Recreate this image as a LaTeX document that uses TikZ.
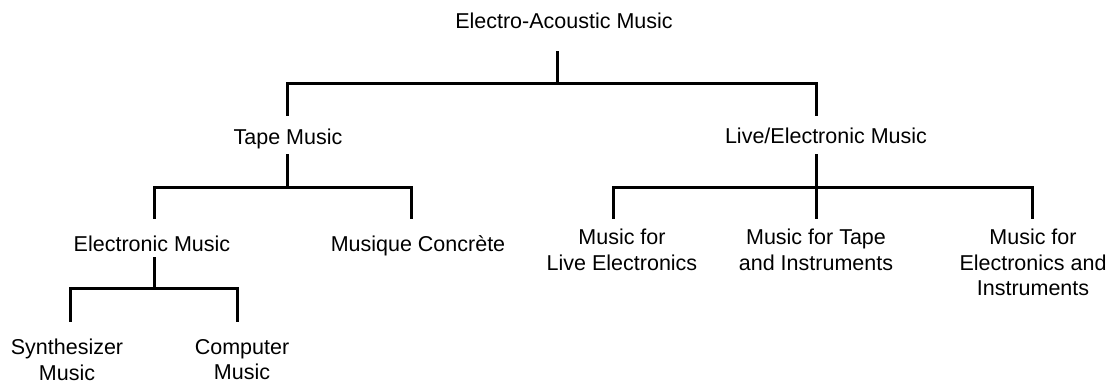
\documentclass[tikz,border=0pt]{standalone}
\usepackage{fontspec}
\setmainfont{Liberation Sans}
\begin{document}
\begin{tikzpicture}[x=1pt, y=-1pt,
    term/.style={font=\fontsize{21.5}{25.5}\selectfont, inner xsep=0pt, inner ysep=0pt},
    leafterm/.style={term, anchor=north, align=center},
    link/.style={line width=3pt}]
\useasboundingbox (0,0) rectangle (1112,386);
% headings
\node[term, anchor=base, text depth=23pt] (root) at (564,28) {Electro-Acoustic Music};
\node[term, anchor=base, text height=28pt, text depth=10pt] (tape) at (288,144) {Tape Music};
\node[term, anchor=base, text height=27pt, text depth=11pt] (live) at (826,143) {Live/Electronic Music};
\node[term, anchor=base, text height=32pt, text depth=6pt] (elec) at (152,251) {Electronic Music};
% leaves
\node[leafterm, inner ysep=16.5pt] (musq) at (418,219) {Musique Concrète};
\node[leafterm, inner ysep=17pt] (synth) at (67,322) {Synthesizer\\Music};
\node[leafterm, inner ysep=17pt] (comp) at (242,322) {Computer\\Music};
\node[leafterm, inner ysep=10pt] (mlive) at (622,219) {Music for\\Live Electronics};
\node[leafterm, inner ysep=10pt] (mtape) at (816,219) {Music for Tape\\and Instruments};
\node[leafterm, inner ysep=10pt] (melec) at (1033,219) {Music for\\Electronics and\\Instruments};
% junctions
\coordinate (j0) at (557,83);
\coordinate (j1) at (287,187);
\coordinate (j2) at (816,187);
\coordinate (j3) at (154,288);
% connectors
\foreach \kid/\dx in {tape/-1pt, live/-10pt}
    \draw[link] (j0 |- root.south) -- (j0) -| ([xshift=\dx]\kid.north);
\foreach \kid/\dx in {elec/2pt, musq/-7pt}
    \draw[link] (j1 |- tape.south) -- (j1) -| ([xshift=\dx]\kid.north);
\foreach \kid/\dx in {mlive/-9pt, mtape/0pt, melec/-1pt}
    \draw[link] (j2 |- live.south) -- (j2) -| ([xshift=\dx]\kid.north);
\foreach \kid/\dx in {synth/3pt, comp/-5pt}
    \draw[link] (j3 |- elec.south) -- (j3) -| ([xshift=\dx]\kid.north);
\end{tikzpicture}
\end{document}
